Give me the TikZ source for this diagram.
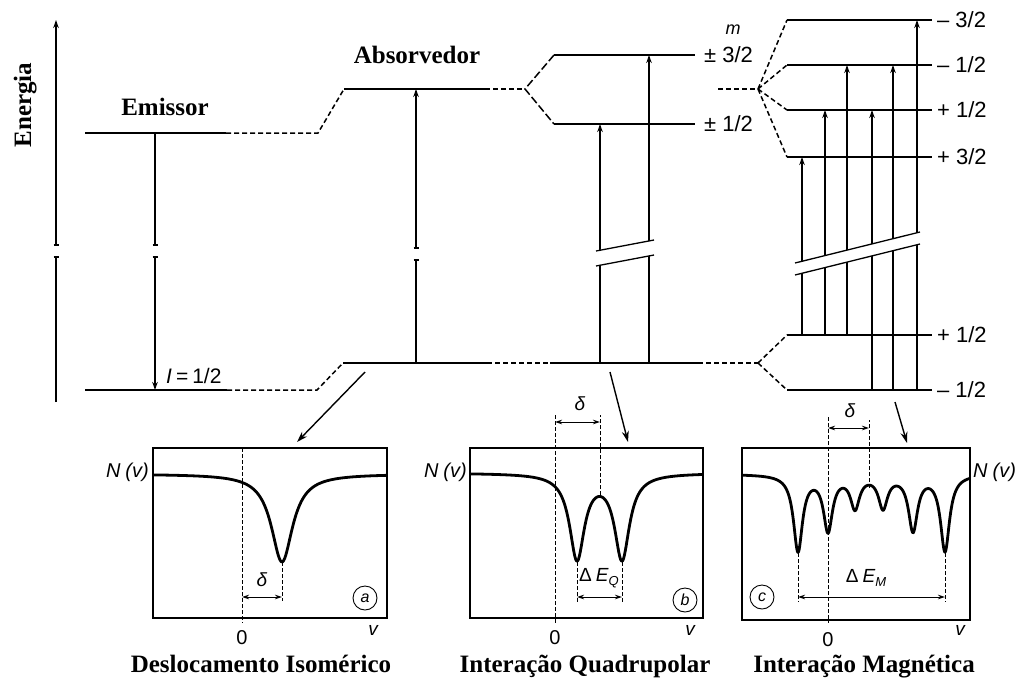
\documentclass[tikz,border=0pt]{standalone}
\usepackage{fontspec}
\setmainfont{Liberation Serif}
\newfontfamily\labfont{Liberation Sans}
\usetikzlibrary{arrows.meta}
\newcommand\lrz[3]{#1*#3/(((\x-#2)/10)*((\x-#2)/10)+#3)}
\begin{document}
\begin{tikzpicture}[x=1pt,y=-1pt,
  level/.style={line width=2.6pt},
  dlevel/.style={line width=1.5pt, dash pattern=on 5pt off 3pt},
  trans/.style={line width=1.3pt},
  tipup/.style={trans,-{Stealth[length=8pt,width=5.5pt]}},
  tick/.style={line width=1.1pt},
  parrow/.style={line width=1.4pt,-{Stealth[length=11pt,width=7pt]}},
  box/.style={line width=1.3pt},
  curve/.style={line width=2.8pt,line join=round},
  zero/.style={line width=0.9pt,dash pattern=on 4pt off 2pt},
  dim/.style={line width=1pt,{Stealth[length=7pt,width=4.5pt]}-{Stealth[length=7pt,width=4.5pt]}},
  ttl/.style={font=\fontsize{25}{28}\selectfont\bfseries,anchor=base},
  lab/.style={font=\labfont\fontsize{22}{24}\selectfont,anchor=west,inner sep=0pt},
  plab/.style={font=\labfont\fontsize{20}{22}\selectfont,inner sep=0pt},
  ilab/.style={plab,font=\labfont\itshape\fontsize{19}{19}\selectfont},
  zlab/.style={plab,font=\labfont\fontsize{20}{20}\selectfont},
  circ/.style={draw,circle,line width=0.9pt,minimum size=24pt,inner sep=0pt,font=\labfont\itshape\fontsize{16}{16}\selectfont}
]
\useasboundingbox (0,0) rectangle (1028,686);
\fill[white] (0,0) rectangle (1028,686);

% ---------- energy axis ----------
\coordinate (ax0) at (56,402); \coordinate (axb1) at (56,257);
\coordinate (axb2) at (56,245); \coordinate (ax1) at (56,20);
\draw[trans] (ax0) -- (axb1);
\draw[tipup] (axb2) -- (ax1);
\draw[tick] ([xshift=-2.5pt]axb1) -- ([xshift=2.5pt]axb1);
\draw[tick] ([xshift=-2.5pt]axb2) -- ([xshift=2.5pt]axb2);
\node[ttl,rotate=90] (energia) at (31,105) {Energia};

% ---------- emitter ----------
\node[ttl] (emissor) at (165,115) {Emissor};
\coordinate (e1L) at (85,133); \coordinate (e1R) at (226,133); \coordinate (e1D) at (318,133);
\coordinate (g1L) at (85,390); \coordinate (g1R) at (227,390); \coordinate (g1D) at (317,390);
\coordinate (a1L) at (344,89); \coordinate (a1R) at (485,89); \coordinate (a1S) at (525,89);
\coordinate (a0L) at (343,363); \coordinate (a0R) at (487,363); \coordinate (a0M) at (550,363);
\coordinate (a0N) at (698,363); \coordinate (a0S) at (758,363);
\draw[level] (e1L) -- (e1R);
\draw[dlevel] (e1R) -- (e1D) -- (a1L);
\draw[level] (g1L) -- (g1R);
\draw[dlevel] (g1R) -- (g1D) -- (a0L);
\node[lab,font=\labfont\fontsize{21}{23}\selectfont] (ihalf) at (166,376) {\textit{I}\hspace{4pt}=\hspace{4pt}1/2};

% emitter transition
\coordinate (et0) at (155,133); \coordinate (etb1) at (155,245);
\coordinate (etb2) at (155,257); \coordinate (et1) at (155,390);
\draw[trans] (et0) -- (etb1);
\draw[tipup] (etb2) -- (et1);
\draw[tick] ([xshift=-2.5pt]etb1) -- ([xshift=2.5pt]etb1);
\draw[tick] ([xshift=-2.5pt]etb2) -- ([xshift=2.5pt]etb2);

% ---------- absorber ----------
\node[ttl] (absorvedor) at (417,63) {Absorvedor};
\draw[level] (a1L) -- (a1R);
\draw[dlevel] (a1R) -- (a1S);
\draw[level] (a0L) -- (a0R);
\draw[dlevel] (a0R) -- (a0M);
\draw[level] (a0M) -- (a0N);
\draw[dlevel] (a0N) -- (a0S);
\coordinate (at0) at (416,363); \coordinate (atb1) at (416,260);
\coordinate (atb2) at (416,248); \coordinate (at1) at (416,89);
\draw[trans] (at0) -- (atb1);
\draw[tipup] (atb2) -- (at1);
\draw[tick] ([xshift=-2.5pt]atb1) -- ([xshift=2.5pt]atb1);
\draw[tick] ([xshift=-2.5pt]atb2) -- ([xshift=2.5pt]atb2);

% ---------- quadrupole ----------
\coordinate (q3L) at (554,55); \coordinate (q3R) at (695,55);
\coordinate (q1L) at (554,124); \coordinate (q1R) at (695,124);
\draw[dlevel,dash pattern=on 8pt off 3pt] (q3L) -- (a1S) -- (q1L);
\draw[level] (q3L) -- (q3R);
\draw[level] (q1L) -- (q1R);
\node[lab] (q3lab) at (704,55) {±\hspace{6pt}3/2};
\node[lab] (q1lab) at (704,124) {±\hspace{6pt}1/2};
\node[plab,font=\labfont\itshape\fontsize{18}{18}\selectfont] (mlab) at (733,30) {m};
\coordinate (qa0) at (600,363); \coordinate (qa1) at (600,124);
\coordinate (qb0) at (649,363); \coordinate (qb1) at (649,55);
\draw[tipup] (qa0) -- (qa1);
\draw[tipup] (qb0) -- (qb1);
\fill[white] (594,251) -- (655,240) -- (655,255) -- (594,266) -- cycle;
\coordinate (qbr1) at (596,251); \coordinate (qbr2) at (654,240);
\coordinate (qbr3) at (596,266); \coordinate (qbr4) at (654,255);
\draw[trans] (qbr1) -- (qbr2);
\draw[trans] (qbr3) -- (qbr4);

% ---------- magnetic ----------
\coordinate (mD) at (718,89); \coordinate (mS) at (758,89);
\draw[dlevel] (mD) -- (mS);
\foreach \n/\y/\t in {1/20/{–\hspace{6pt}3/2},2/65/{–\hspace{6pt}1/2},3/110/{+\hspace{6pt}1/2},4/157/{+\hspace{6pt}3/2}}{
  \coordinate (m\n L) at (787,\y); \coordinate (m\n R) at (932,\y);
  \draw[dlevel] (mS) -- (m\n L);
  \draw[level] (m\n L) -- (m\n R);
  \node[lab] (ml\n) at (937,\y) {\t};
}
\foreach \n/\y/\t in {5/335/{+\hspace{6pt}1/2},6/390/{–\hspace{6pt}1/2}}{
  \coordinate (m\n L) at (787,\y); \coordinate (m\n R) at (932,\y);
  \draw[dlevel] (a0S) -- (m\n L);
  \draw[level] (m\n L) -- (m\n R);
  \node[lab] (ml\n) at (937,\y) {\t};
}
\foreach \x/\ya/\yb in {802/335/157,825/335/110,847/335/65,872/390/110,893/390/65,917/390/20}{
  \draw[tipup] (\x,\ya) -- (\x,\yb);
}
\fill[white] (794,263) -- (921,232) -- (921,244) -- (794,275) -- cycle;
\coordinate (mbr1) at (795,263); \coordinate (mbr2) at (920,232);
\coordinate (mbr3) at (795,275); \coordinate (mbr4) at (920,244);
\draw[trans] (mbr1) -- (mbr2);
\draw[trans] (mbr3) -- (mbr4);

% ---------- arrows to panels ----------
\coordinate (pa0) at (365,372); \coordinate (pa1) at (297,442);
\coordinate (pb0) at (610,372); \coordinate (pb1) at (628,442);
\coordinate (pc0) at (895,402); \coordinate (pc1) at (907,443);
\draw[parrow] (pa0) -- (pa1);
\draw[parrow] (pb0) -- (pb1);
\draw[parrow] (pc0) -- (pc1);

% ---------- panel a ----------
\draw[box] (153,448) rectangle (387,618);
\draw[zero] (242,448) -- (242,623);
\draw[curve] plot[domain=153:387,samples=200] (\x,{474+\lrz{88}{282}{1.69}});
\draw[zero] (282,562) -- (282,601);
\draw[dim] (242,597) -- (282,597);
\node[ilab] (da) at (262,580) {δ};
\node[circ] (ca) at (365,598) {a};
\node[plab,anchor=east] (na) at (149,472) {\itshape N\hspace{5pt}(v)};
\node[zlab] (za) at (242,638) {0};
\node[ilab] (va) at (373,630) {v};
\node[ttl] (ta) at (261,672) {Deslocamento Isomérico};

% ---------- panel b ----------
\draw[box] (470,448) rectangle (703,618);
\draw[zero] (555,415) -- (555,623);
\draw[curve] plot[domain=470:703,samples=250] (\x,{473+\lrz{85}{577}{0.81}+\lrz{85}{622}{0.81}});
\draw[zero] (600,495) -- (600,415);
\draw[dim] (555,422) -- (600,422);
\node[ilab] (db) at (580,404) {δ};
\draw[zero] (577,562) -- (577,602);
\draw[zero] (622,562) -- (622,602);
\draw[dim] (577,597) -- (622,597);
\node[plab,font=\labfont\fontsize{19}{19}\selectfont] (eq) at (599,578) {Δ\hspace{4pt}\textit{E}\raisebox{-4pt}{\fontsize{13}{13}\selectfont\itshape Q}};
\node[circ] (cb) at (685,600) {b};
\node[plab,anchor=east] (nb) at (467,472) {\itshape N\hspace{5pt}(v)};
\node[zlab] (zb) at (555,638) {0};
\node[ilab] (vb) at (690,630) {v};
\node[ttl] (tb) at (585,672) {Interação Quadrupolar};

% ---------- panel c ----------
\draw[box] (742,448) rectangle (970,620);
\draw[zero] (828,417) -- (828,623);
\draw[curve] plot[domain=742:970,samples=400] (\x,{474+\lrz{76}{798}{0.3}+\lrz{55}{828}{0.3}+\lrz{32}{855}{0.3}+\lrz{32}{883}{0.3}+\lrz{55}{913}{0.3}+\lrz{76}{945}{0.3}});
\draw[zero] (869,488) -- (869,420);
\draw[dim] (828,428) -- (869,428);
\node[ilab] (dc) at (850,411) {δ};
\draw[zero] (798,553) -- (798,602);
\draw[zero] (945,553) -- (945,602);
\draw[dim] (798,597) -- (945,597);
\node[plab,font=\labfont\fontsize{19}{19}\selectfont] (em) at (866,578) {Δ\hspace{4pt}\textit{E}\raisebox{-4pt}{\fontsize{13}{13}\selectfont\itshape M}};
\node[circ] (cc) at (762,597) {c};
\node[plab,anchor=west] (nc) at (973,472) {\itshape N\hspace{5pt}(v)};
\node[zlab] (zc) at (828,640) {0};
\node[ilab] (vc) at (960,630) {v};
\node[ttl] (tc) at (864,672) {Interação Magnética};
\end{tikzpicture}
\end{document}
